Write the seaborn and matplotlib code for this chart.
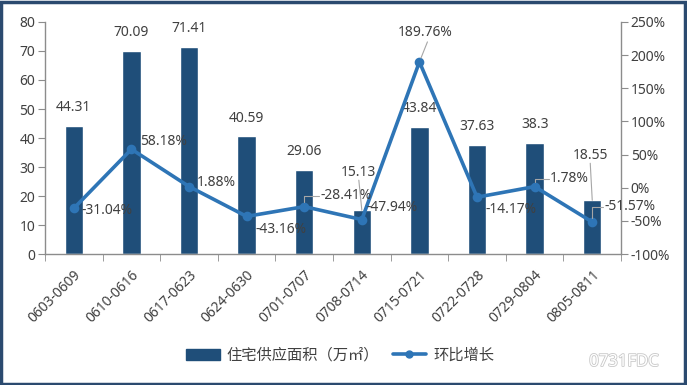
import matplotlib
matplotlib.use('Agg')
import matplotlib.pyplot as plt
import matplotlib.patheffects as pe
from matplotlib.patches import Rectangle
from matplotlib.lines import Line2D
from matplotlib.patches import Patch
import seaborn as sns
import pandas as pd

sns.set_style('white')
plt.rcParams['font.family'] = ['Noto Sans', 'Noto Sans CJK SC', 'DejaVu Sans']

# 数据
weeks = ['0603-0609', '0610-0616', '0617-0623', '0624-0630', '0701-0707',
         '0708-0714', '0715-0721', '0722-0728', '0729-0804', '0805-0811']
area = [44.31, 70.09, 71.41, 40.59, 29.06, 15.13, 43.84, 37.63, 38.3, 18.55]
growth = [-31.04, 58.18, 1.88, -43.16, -28.41, -47.94, 189.76, -14.17, 1.78, -51.57]

bar_color = '#1F4E79'
line_color = '#2E75B6'
axis_color = '#8C8C8C'
text_color = '#404040'

df = pd.DataFrame({'week': weeks, 'area': area, 'growth': growth})

fig = plt.figure(figsize=(6.87, 3.85), dpi=100)
ax = fig.add_axes([0.0655, 0.34, 0.8385, 0.603])
ax2 = ax.twinx()

sns.barplot(data=df, x='week', y='area', ax=ax, color=bar_color, width=0.32,
            saturation=1)
sns.pointplot(data=df, x='week', y='growth', ax=ax2, color=line_color,
              linewidth=2.6, markersize=5)

ax.set_ylim(0, 80)
ax.set_yticks(range(0, 81, 10))
ax2.set_ylim(-100, 250)
ax2.set_yticks(range(-100, 251, 50))
ax2.set_yticklabels([f'{v}%' for v in range(-100, 251, 50)])
ax.set_xlim(-0.5, 9.5)
ax.set_xlabel('')
ax.set_ylabel('')
ax2.set_ylabel('')

# 坐标轴样式
for a in (ax, ax2):
    for s in a.spines.values():
        s.set_visible(False)
ax.spines['left'].set_visible(True)
ax.spines['bottom'].set_visible(True)
ax2.spines['right'].set_visible(True)
for s in (ax.spines['left'], ax.spines['bottom'], ax2.spines['right']):
    s.set_color(axis_color)
    s.set_linewidth(1)

ax.tick_params(axis='y', left=True, length=5, color=axis_color,
               labelsize=10, labelcolor=text_color, pad=2)
ax2.tick_params(axis='y', right=True, length=5, color=axis_color,
                labelsize=10, labelcolor=text_color, pad=2)
ax.set_xticks(range(10))
ax.set_xticklabels(weeks, rotation=45, ha='right', rotation_mode='anchor',
                   fontsize=10, color=text_color)
ax.tick_params(axis='x', bottom=False, pad=6)
ax.set_xticks([i - 0.5 for i in range(11)], minor=True)
ax.tick_params(axis='x', which='minor', bottom=True, length=5, color=axis_color)

# 柱形数据标签
bar_off = {5: (-3, 38), 9: (-2, 45)}
for i, v in enumerate(area):
    dx, dy = bar_off.get(i, (0, 18))
    ax.annotate(f'{v:g}', (i, v), xytext=(dx, dy), textcoords='offset pixels',
                ha='center', va='center', fontsize=10, color=text_color)
    if i in bar_off:
        ax.annotate('', (i, v), xytext=(dx, dy - 8), textcoords='offset pixels',
                    arrowprops=dict(arrowstyle='-', color='#A6A6A6', lw=0.8,
                                    shrinkA=0, shrinkB=0))

# 折线数据标签
line_off = [(8, -2), (9, 8), (8, 4), (9, -13), (16, 11),
            (5, 12), (6, 29), (8, -12), (15, 8), (12, 15)]
leader = {4, 6, 8, 9}
for i, v in enumerate(growth):
    dx, dy = line_off[i]
    ha = 'center' if i == 6 else 'left'
    ax2.annotate(f'{v:.2f}%', (i, v), xytext=(dx, dy), textcoords='offset pixels',
                 ha=ha, va='center', fontsize=10, color=text_color)
    if i in leader:
        if i == 6:
            tx, ty = dx + 2, dy - 9
        else:
            tx, ty = dx - 1, dy
        ax2.annotate('', (i, v), xytext=(tx, ty), textcoords='offset pixels',
                     arrowprops=dict(arrowstyle='-', color='#A6A6A6', lw=0.8,
                                     shrinkA=0, shrinkB=3,
                                     connectionstyle='angle,angleA=0,angleB=90,rad=0'
                                     if i != 6 else 'arc3'))

# 图例
handles = [Patch(facecolor=bar_color, edgecolor=bar_color),
           Line2D([0], [0], color=line_color, lw=2.6, marker='o', markersize=5)]
fig.legend(handles, ['住宅供应面积（万㎡）', '环比增长'], loc='center',
           bbox_to_anchor=(0.495, 1 - 355 / 385), ncol=2, frameon=False,
           fontsize=11, labelcolor=text_color, handlelength=2.2,
           handleheight=0.7, handletextpad=0.45, columnspacing=0.9,
           prop={'family': ['Noto Sans CJK SC', 'DejaVu Sans'], 'size': 11})

# 水印
fig.text(624 / 687, 1 - 362 / 385, '0731FDC', ha='center', va='center',
         fontsize=12, color='white', fontweight='bold',
         path_effects=[pe.withStroke(linewidth=1.2, foreground='#C8C8C8')])

# 边框
fig.patches.append(Rectangle((0.002, 0.003), 0.995, 0.993, transform=fig.transFigure,
                             fill=False, edgecolor='#2B4A6F', linewidth=2.5))

fig.savefig('out.png', dpi=100)
